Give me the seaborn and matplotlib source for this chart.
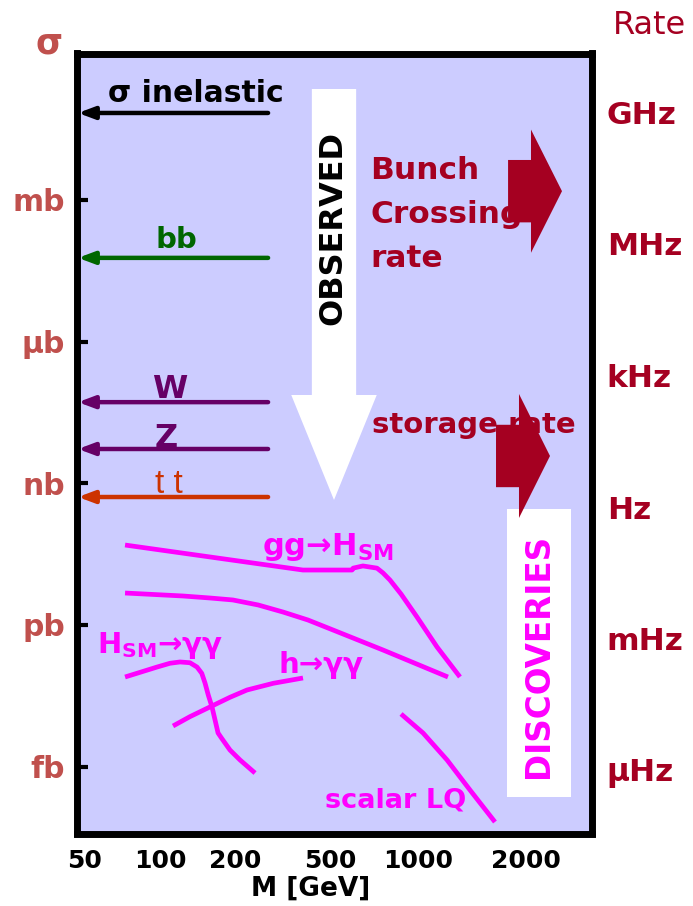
import numpy as np
import pandas as pd
import matplotlib
matplotlib.use("Agg")
import matplotlib.pyplot as plt
from matplotlib.patches import Polygon, Rectangle
from matplotlib.ticker import FixedLocator, NullLocator
import seaborn as sns

# ---------------- data ----------------
# cross sections marked with arrows at the sigma axis (pb)
process_names = ["σ inelastic", "bb", "W", "Z", "t t"]
process_xsec = [6.9e10, 5.9e7, 5.2e4, 5.3e3, 5.1e2]
process_colors = ["black", "#006600", "#660066", "#660066", "#CC3300"]

# signal curves: mass (GeV) vs cross section (pb)
ggH_mass = [72.4, 385, 595, 600, 648, 724, 759, 802, 875, 992, 1130, 1309]
ggH_xsec = [49.1, 14.5, 14.5, 15.9, 17.7, 15.9, 12.6, 8.9, 4.5, 1.47, 0.34, 0.079]

qqH_mass = [72.4, 123.7, 158.7, 196, 250, 318, 404, 512, 759, 1212]
qqH_xsec = [4.73, 4.09, 3.71, 3.37, 2.64, 1.87, 1.27, 0.78, 0.294, 0.0788]

Hgg_mass = [72.4, 97.3, 109.7, 120.3, 131.9, 140.8, 147.1, 151.6, 156.2, 161.7,
            166.3, 171.0, 176.8, 190.9, 209.9, 242.6]
Hgg_xsec = [0.0788, 0.128, 0.154, 0.164, 0.158, 0.128, 0.0944, 0.0588, 0.0328,
            0.0183, 0.00969, 0.00514, 0.00397, 0.00224, 0.00138, 0.00073]

hgg_mass = [112.8, 131.9, 158.7, 190.9, 224.5, 289.4, 385.4]
hgg_xsec = [0.00723, 0.0114, 0.0183, 0.0293, 0.0418, 0.058, 0.0751]

LQ_mass = [875, 1033, 1205, 1396, 1639]
LQ_xsec = [0.0130, 0.00514, 0.00138, 0.000319, 0.0000671]

# axis ticks
mass_ticks = [50, 100, 200, 500, 1000, 2000]
mass_tick_frac = [0.0165, 0.1621, 0.3078, 0.4922, 0.6631, 0.8728]
xsec_ticks = [1e9, 1e6, 1e3, 1.0, 1e-3]
xsec_labels = ["mb", "μb", "nb", "pb", "fb"]
rate_ticks = [1e9, 1e6, 1e3, 1.0, 1e-3, 1e-6]
rate_labels = ["GHz", "MHz", "kHz", "Hz", "mHz", "μHz"]

MAGENTA = "#FF00FF"
DARKRED = "#A50021"
SIGRED = "#C0504D"

# ---------------- style ----------------
sns.set_style("white")
plt.rcParams["font.family"] = ["DejaVu Sans"]
plt.rcParams["font.weight"] = "bold"
plt.rcParams["mathtext.fontset"] = "custom"
plt.rcParams["mathtext.rm"] = "DejaVu Sans:bold"
plt.rcParams["mathtext.it"] = "DejaVu Sans:bold"
plt.rcParams["mathtext.bf"] = "DejaVu Sans:bold"

# piecewise logarithmic mass axis through the labelled masses
LK = np.log10(mass_ticks)
FK = np.array(mass_tick_frac)
S0 = (FK[1] - FK[0]) / (LK[1] - LK[0])
S1 = (FK[-1] - FK[-2]) / (LK[-1] - LK[-2])


def mass_fwd(m):
    lm = np.log10(np.maximum(np.asarray(m, dtype=float), 1e-12))
    out = np.interp(lm, LK, FK)
    out = np.where(lm < LK[0], FK[0] + (lm - LK[0]) * S0, out)
    out = np.where(lm > LK[-1], FK[-1] + (lm - LK[-1]) * S1, out)
    return out


def mass_inv(f):
    f = np.asarray(f, dtype=float)
    lm = np.interp(f, FK, LK)
    lm = np.where(f < FK[0], LK[0] + (f - FK[0]) / S0, lm)
    lm = np.where(f > FK[-1], LK[-1] + (f - FK[-1]) / S1, lm)
    return 10 ** lm


fig = plt.figure(figsize=(6.93, 9.06), dpi=100)
ax = fig.add_axes([76.5 / 693, 1 - 833.5 / 906, 515 / 693, 780 / 906])
ax.set_facecolor("#CCCCFF")

ax.set_xscale("function", functions=(mass_fwd, mass_inv))
ax.set_yscale("log")
ax.set_xlim(float(mass_inv(0.0)), float(mass_inv(1.0)))
ax.set_ylim(10 ** -4.417, 10 ** 12.098)

# ---------------- background shapes ----------------
def down_arrow(xm, sh, hh, ytop, yneck, ytip):
    return [(xm - sh, ytop), (xm + sh, ytop), (xm + sh, yneck), (xm + hh, yneck),
            (xm, ytip), (xm - hh, yneck), (xm - sh, yneck)]


def right_arrow(xtail, xneck, xtip, ym, sh, hh):
    return [(xtail, ym - sh), (xneck, ym - sh), (xneck, ym - hh), (xtip, ym),
            (xneck, ym + hh), (xneck, ym + sh), (xtail, ym + sh)]


ax.add_patch(Polygon(down_arrow(0.5, 0.043, 0.083, 0.9545, 0.5622, 0.4276),
                     closed=True, transform=ax.transAxes, facecolor="white",
                     edgecolor="none", zorder=1))
ax.add_patch(Rectangle((0.836, 0.0468), 0.124, 0.369, transform=ax.transAxes,
                       facecolor="white", edgecolor="none", zorder=1))

# ---------------- signal curves ----------------
curves = pd.concat([
    pd.DataFrame({"mass": ggH_mass, "xsec": ggH_xsec, "curve": "ggH"}),
    pd.DataFrame({"mass": qqH_mass, "xsec": qqH_xsec, "curve": "qqH"}),
    pd.DataFrame({"mass": Hgg_mass, "xsec": Hgg_xsec, "curve": "Hgg"}),
    pd.DataFrame({"mass": hgg_mass, "xsec": hgg_xsec, "curve": "hgg"}),
    pd.DataFrame({"mass": LQ_mass, "xsec": LQ_xsec, "curve": "LQ"}),
], ignore_index=True)

sns.lineplot(data=curves, x="mass", y="xsec", units="curve", estimator=None,
             sort=False, color=MAGENTA, lw=3.4, solid_capstyle="butt",
             solid_joinstyle="round", ax=ax, zorder=2)

curve_labels = [
    ("gg→H$_{\\mathrm{SM}}$", 259.5, 30.2, 22),
    ("H$_{\\mathrm{SM}}$→γγ", 55.9, 0.254, 21),
    ("h→γγ", 302.8, 0.0958, 21),
    ("scalar LQ", 476, 1.36e-4, 19.5),
]
for txt, mx, sy, fs in curve_labels:
    ax.text(mx, sy, txt, color=MAGENTA, fontsize=fs, fontweight="bold",
            ha="left", va="baseline", zorder=3)

# ---------------- process arrows ----------------
label_x = [0.232, 0.193, 0.1816, 0.174, 0.18]
label_dy = [8, 7, 3, 1.5, 3]
label_fs = [21.5, 21, 23, 23, 24]
for name, val, col, lx, dy, fs in zip(process_names, process_xsec, process_colors,
                                      label_x, label_dy, label_fs):
    ax.annotate("", xy=(0.003, val), xytext=(0.372, val),
                xycoords=("axes fraction", "data"),
                arrowprops=dict(arrowstyle="-|>,head_length=0.8,head_width=0.3",
                                color=col, lw=3.2, shrinkA=0, shrinkB=0,
                                mutation_scale=12), zorder=3)
    if name == "t t":
        kw = dict(family=["Liberation Sans", "DejaVu Sans"], fontweight="normal")
    else:
        kw = dict(fontweight="bold")
    ax.annotate(name, xy=(lx, val), xycoords=("axes fraction", "data"),
                xytext=(0, dy), textcoords="offset points", ha="center",
                va="baseline", color=col, fontsize=fs, zorder=3, **kw)

# ---------------- rate annotations ----------------
ax.text(0.498, 0.776, "OBSERVED", rotation=90, ha="center", va="center",
        fontsize=23, fontweight="bold", color="black", transform=ax.transAxes,
        zorder=3)
ax.text(0.570, 0.8686, "Bunch\nCrossing\nrate", ha="left", va="top",
        fontsize=22.5, fontweight="bold", color=DARKRED, linespacing=1.65,
        transform=ax.transAxes, zorder=3)
ax.text(0.5738, 0.5135, "storage rate", ha="left", va="baseline",
        fontsize=21, fontweight="bold", color=DARKRED,
        transform=ax.transAxes, zorder=3)
ax.add_patch(Polygon(right_arrow(0.838, 0.8825, 0.9427, 0.8235, 0.040, 0.079),
                     closed=True, transform=ax.transAxes, facecolor=DARKRED,
                     edgecolor="none", zorder=4))
ax.add_patch(Polygon(right_arrow(0.8146, 0.8592, 0.9194, 0.484, 0.040, 0.0795),
                     closed=True, transform=ax.transAxes, facecolor=DARKRED,
                     edgecolor="none", zorder=4))
ax.text(0.898, 0.2276, "DISCOVERIES", rotation=90, ha="center", va="center",
        fontsize=23.5, fontweight="bold", color=MAGENTA,
        transform=ax.transAxes, zorder=5)

# ---------------- axes ----------------
ax.xaxis.set_major_locator(FixedLocator(mass_ticks))
ax.xaxis.set_minor_locator(NullLocator())
ax.set_xticklabels([str(m) for m in mass_ticks])
ax.yaxis.set_major_locator(FixedLocator(xsec_ticks))
ax.yaxis.set_minor_locator(NullLocator())
ax.set_yticklabels(xsec_labels)
ax.tick_params(axis="x", length=0, pad=11, labelsize=18, labelcolor="black")
ax.tick_params(axis="y", direction="in", length=8, width=3, color="black",
               pad=8.3, labelsize=21.5, labelcolor=SIGRED)
ax.set_xlabel("M [GeV]", fontsize=19, fontweight="bold", color="black")
ax.xaxis.set_label_coords(0.455, -0.0545)
ax.set_ylabel("")
for sp in ax.spines.values():
    sp.set_visible(True)
    sp.set_color("black")
    sp.set_linewidth(5)

axr = ax.twinx()
axr.set_yscale("log")
axr.set_ylim(10 ** -7.444, 10 ** 10.340)
axr.yaxis.set_major_locator(FixedLocator(rate_ticks))
axr.yaxis.set_minor_locator(NullLocator())
axr.set_yticklabels(rate_labels)
axr.tick_params(axis="y", length=0, pad=11, labelsize=22.5, labelcolor=DARKRED)
for sp in axr.spines.values():
    sp.set_visible(False)

fig.text(49 / 693, 1 - 43 / 906, "σ", ha="center", va="center", fontsize=25,
         fontweight="bold", color=SIGRED)
fig.text(650 / 693, 1 - 25 / 906, "Rate", ha="center", va="center", fontsize=23,
         fontweight="normal", color=DARKRED)

fig.savefig("out.png", dpi=100)
